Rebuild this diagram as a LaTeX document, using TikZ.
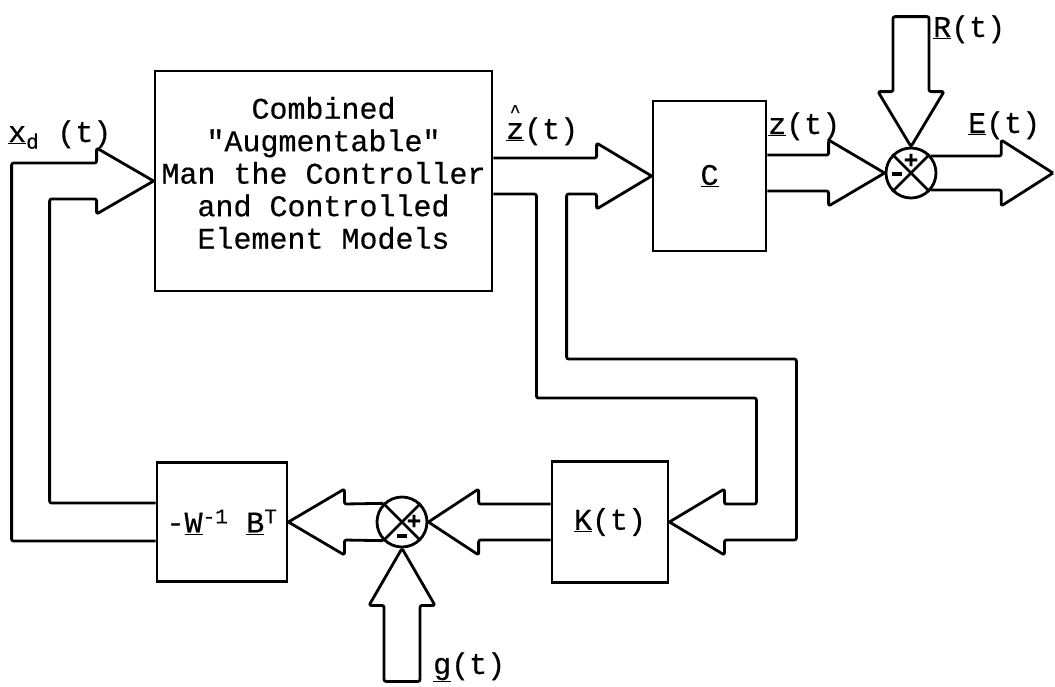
\documentclass[tikz,border=0pt]{standalone}
\usepackage{fontspec}
\newfontfamily\tw[FakeBold=0.5]{Liberation Mono}
\usetikzlibrary{calc}
\newcommand{\twsize}{\tw\fontsize{30}{32.5}\selectfont}
\newcommand{\zhat}{\ooalign{z\cr\hidewidth\raisebox{22pt}{\fontsize{18}{18}\selectfont\textasciicircum}\hidewidth\cr}}

\begin{document}
\begin{tikzpicture}[x=1pt, y=-1pt,
  block/.style={draw, line width=2.8pt, inner sep=0pt},
  sumjn/.style={draw, circle, line width=2.8pt, minimum size=50pt, inner sep=0pt},
  conduit/.style={line width=2.8pt, rounded corners=2pt, line join=round},
  lbl/.style={font=\twsize, inner sep=0pt},
  sgn/.style={font=\tw\bfseries\fontsize{24}{24}\selectfont, inner sep=0pt}]
  \useasboundingbox (0,0) rectangle (1055,686);

  \node[block, minimum width=337pt, minimum height=220pt] (main) at (323.5,181) {};
  \node[lbl, align=center] (maintext) at ($(main.center)+(0,-8)$) {Combined\\"Augmentable"\\Man the Controller\\and Controlled\\Element Models};
  \node[block, minimum width=113pt, minimum height=150pt, font=\twsize] (cbox) at (709.5,176) {\underline{C}};
  \node[sumjn] (sumE) at (911,173) {};
  \node[block, minimum width=130pt, minimum height=119pt, font=\twsize] (wbox) at (222,522) {-\underline{W}\textsuperscript{-1} \underline{B}\textsuperscript{T}};
  \node[sumjn] (sumU) at (402,522) {};
  \node[block, minimum width=116pt, minimum height=121pt, font=\twsize] (kbox) at (610,522) {\underline{K}(t)};
  \coordinate (Etip) at (1053,173);

  \draw[line width=2.8pt] (sumE.45) -- (sumE.225) (sumE.135) -- (sumE.315);
  \draw[line width=2.8pt] (sumU.45) -- (sumU.225) (sumU.135) -- (sumU.315);
  \node[sgn] (sumEplus) at ($(sumE.center)+(0,-12)$) {+};
  \node[sgn] (sumEminus) at ($(sumE.center)+(-14,1)$) {\rule{10pt}{3.2pt}};
  \node[sgn] (sumUplus) at ($(sumU.center)+(12,0)$) {+};
  \node[sgn] (sumUminus) at ($(sumU.center)+(0,14)$) {\rule{10pt}{3.2pt}};

  \draw[conduit] ($(wbox.west)+(0,19)$) -| ($(main.west)+(-142,-18)$) -- ++(85,0) -- ++(0,-15) -- (main.west);
  \draw[conduit] ($(wbox.west)+(0,-19)$) -| ($(main.west)+(-104,18)$) -- ++(47,0) -- ++(0,15) -- (main.west);

  \draw[conduit] ($(main.east)+(0,-23)$) -- ($(cbox.west)+(-55,-18)$) -- ++(0,-15) -- (cbox.west);
  \draw[conduit] ($(main.east)+(0,13)$) -- ++(43,0) |- ($(kbox.east)+(87,-124)$) |- ($(kbox.east)+(55,-18)$) -- ++(0,-15) -- (kbox.east);
  \draw[conduit] (cbox.west) -- ++(-55,33) -- ++(0,-15) -- ++(-30,0) |- ($(kbox.east)+(127,-163)$) |- ($(kbox.east)+(55,18)$) -- ++(0,15) -- (kbox.east);

  \draw[conduit] ($(cbox.east)+(0,-21)$) -- ($(sumE.west)+(-56,-18)$) -- ++(0,-15) -- (sumE.west);
  \draw[conduit] ($(cbox.east)+(0,15)$) -- ($(sumE.west)+(-56,18)$) -- ++(0,15) -- (sumE.west);

  \draw[conduit] (sumE.40) -- ++(70,0) -- ++(0,-16) -- (Etip);
  \draw[conduit] (sumE.-40) -- ++(70,0) -- ++(0,16) -- (Etip);

  \draw[conduit] (sumE.north) -- ++(-33,-55) -- ++(15,0) -- ++(0,-75) -- ++(36,0) -- ++(0,75) -- ++(15,0) -- cycle;

  \draw[conduit] ($(kbox.west)+(0,-18)$) -- ++(-72,0) -- ++(0,-15) -- (sumU.east);
  \draw[conduit] ($(kbox.west)+(0,18)$) -- ++(-72,0) -- ++(0,15) -- (sumU.east);

  \draw[conduit] (sumU.135) -- ($(wbox.east)+(56,-18)$) -- ++(0,-15) -- (wbox.east);
  \draw[conduit] (sumU.225) -- ($(wbox.east)+(56,18)$) -- ++(0,15) -- (wbox.east);

  \draw[conduit] (sumU.south) -- ++(-33,57) -- ++(15,0) -- ++(0,76) -- ++(36,0) -- ++(0,-76) -- ++(15,0) -- cycle;

  \node[lbl, anchor=base west] (xdlbl) at (8,142) {\underline{x}\textsubscript{d} (t)};
  \node[lbl, anchor=base west] (zhatlbl) at (506,139) {\underline{\zhat}(t)};
  \node[lbl, anchor=base west] (zlbl) at (768,134) {\underline{z}(t)};
  \node[lbl, anchor=base west] (Elbl) at (968,133) {\underline{E}(t)};
  \node[lbl, anchor=base west] (Rlbl) at (933,37) {\underline{R}(t)};
  \node[lbl, anchor=base west] (glbl) at (433,674) {\underline{g}(t)};
\end{tikzpicture}
\end{document}
